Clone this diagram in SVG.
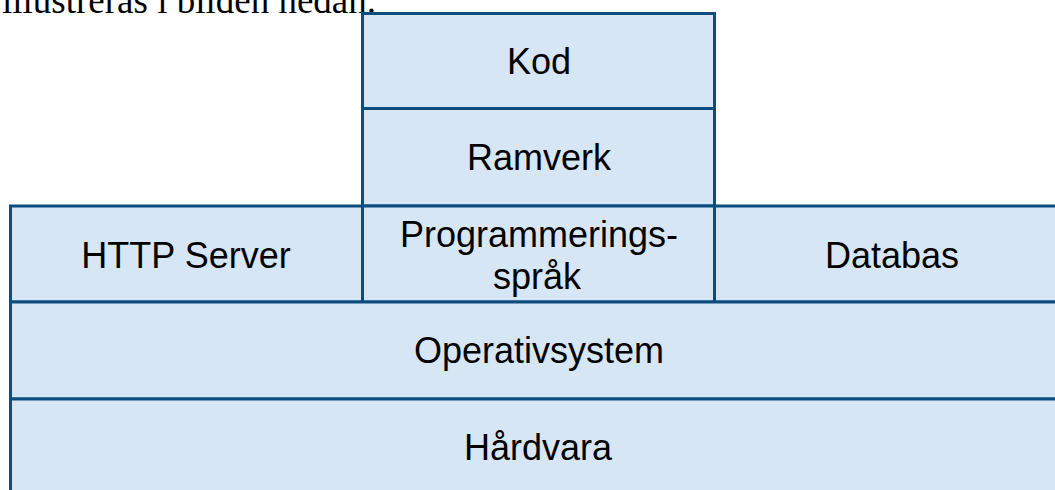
<svg xmlns="http://www.w3.org/2000/svg" width="1055" height="490" viewBox="0 0 1055 490">
<style>
.box{fill:#d7e6f5;stroke:#0b4d7e;stroke-width:3}
.lbl{font-family:"Liberation Sans",Arial,sans-serif;font-size:36px;fill:#000;text-anchor:middle}
.cap{font-family:"Liberation Serif","Times New Roman",serif;font-size:37px;fill:#000}
</style>
<rect width="1055" height="490" fill="#fff"/>
<text class="cap" x="2" y="13">illustreras i bilden nedan.</text>
<g id="connectors"></g>
<g id="kod"><rect class="box" x="362.5" y="13.5" width="352" height="95"/><text class="lbl" x="539" y="74">Kod</text></g>
<g id="ramverk"><rect class="box" x="362.5" y="108.5" width="352" height="97.5"/><text class="lbl" x="539" y="170">Ramverk</text></g>
<g id="http"><rect class="box" x="10.5" y="206" width="352" height="96"/><text class="lbl" x="186" y="268">HTTP Server</text></g>
<g id="prog"><rect class="box" x="362.5" y="206" width="352" height="96"/><text class="lbl" x="539" y="247">Programmerings-</text><text class="lbl" x="537" y="289">språk</text></g>
<g id="databas"><rect class="box" x="714.5" y="206" width="360" height="96"/><text class="lbl" x="892" y="268">Databas</text></g>
<g id="os"><rect class="box" x="10.5" y="302" width="1064" height="97"/><text class="lbl" x="539" y="363">Operativsystem</text></g>
<g id="hw"><rect class="box" x="10.5" y="399" width="1064" height="100"/><text class="lbl" x="538" y="460">Hårdvara</text></g>
</svg>
